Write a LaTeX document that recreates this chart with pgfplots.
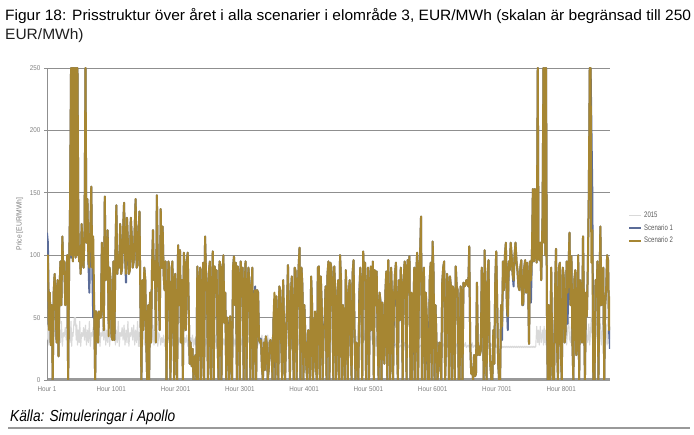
\documentclass[border=0pt]{standalone}
\usepackage{fontspec}
\usepackage{graphicx}
\usepackage{pgfplots}
\usepackage{pgfplotstable}
\pgfplotsset{compat=1.18}
\setmainfont{Liberation Sans}
\newfontfamily\tickfont[FakeStretch=0.9]{Liberation Sans}
\newfontfamily\legfont[FakeStretch=0.75]{Liberation Sans}
\definecolor{scgold}{HTML}{A68632}
\definecolor{scblue}{HTML}{5B6C98}
\definecolor{c15}{HTML}{D9D9D9}
\definecolor{gridgray}{HTML}{8F8F8F}
\definecolor{axgray}{HTML}{999999}
\definecolor{labgray}{HTML}{808080}
\definecolor{leggray}{HTML}{595959}

\pgfplotstableread{
h a b c
0 32 118 85
15 44 110 100
30 28 50 40
45 40 70 70
60 30 28 28
75 47 60 60
90 27 0 0
105 38 70 70
120 35 85 85
135 42 60 60
150 32 30 30
165 44 80 80
180 28 19 19
195 40 70 70
210 30 95 95
225 47 60 60
240 27 115 115
255 38 85 85
270 35 95 95
285 42 60 60
300 32 70 70
315 44 100 100
330 28 0 0
345 40 90 90
360 30 140 140
375 47 250 250
385 27 98 100
395 38 250 250
405 35 95 95
415 42 250 250
425 50 100 100
435 44 250 250
445 50 98 98
455 32 250 250
465 44 100 100
475 28 250 250
490 40 120 120
500 30 95 95
510 47 105 105
525 27 85 85
540 38 125 125
555 35 95 95
570 42 90 90
585 32 120 120
600 44 250 250
615 28 110 110
630 40 145 145
645 30 95 95
660 47 70 90
675 27 120 120
690 38 155 155
705 35 90 90
720 42 50 115
735 32 60 60
750 44 0 0
765 28 55 55
780 40 50 50
795 30 30 30
810 47 55 55
825 27 50 50
840 38 50 50
855 35 110 110
870 42 75 75
885 32 40 40
900 44 147 147
915 28 80 80
930 40 90 90
945 30 120 120
960 47 45 35
975 27 90 90
990 38 80 80
1005 35 35 35
1020 42 32 32
1035 32 95 95
1050 44 32 32
1065 28 100 100
1080 40 140 140
1095 30 85 85
1110 47 100 100
1125 27 90 90
1140 38 125 125
1155 35 85 85
1170 42 90 90
1185 32 120 120
1200 44 142 142
1215 28 100 100
1230 40 78 85
1245 30 130 130
1260 47 110 110
1275 27 85 85
1290 38 88 88
1305 35 130 130
1320 42 115 115
1335 32 90 90
1350 44 95 95
1365 28 120 120
1380 40 145 145
1395 30 90 90
1410 47 92 92
1425 27 120 120
1440 38 135 135
1455 35 60 60
1470 42 0 0
1485 32 80 80
1500 44 40 40
1515 28 90 90
1530 40 80 80
1545 30 30 30
1560 47 0 0
1575 27 60 60
1590 38 0 0
1605 35 70 70
1620 42 30 30
1635 32 90 90
1650 44 120 120
1665 28 80 80
1680 40 95 95
1695 30 30 30
1710 47 148 148
1725 27 90 90
1740 38 70 70
1755 35 40 40
1770 28 137 137
1785 34 90 90
1800 30 123 123
1815 36 85 85
1830 27 72 72
1845 33 95 95
1860 28 0 0
1875 34 60 60
1890 30 95 95
1905 36 90 90
1920 27 0 0
1935 33 40 40
1950 28 95 95
1965 34 70 70
1980 30 0 0
1995 36 85 85
2010 27 40 40
2025 33 0 0
2040 28 108 108
2055 34 60 60
2070 30 104 104
2085 36 30 30
2100 27 80 80
2115 33 0 0
2130 28 102 102
2145 34 85 85
2160 30 40 40
2175 36 95 95
2190 27 102 102
2205 33 60 60
2220 28 13 13
2235 34 30 30
2250 30 11 11
2265 36 25 25
2280 27 0 0
2295 33 15 15
2310 28 20 20
2325 34 0 0
2340 30 91 91
2355 36 0 0
2370 27 78 78
2385 33 90 90
2400 28 0 0
2415 34 60 60
2430 30 94 94
2445 36 0 0
2460 27 115 115
2475 33 85 85
2490 28 72 72
2505 34 0 0
2520 30 87 87
2535 36 95 95
2550 27 0 0
2565 33 60 60
2580 28 103 103
2595 34 0 0
2610 30 91 91
2625 36 70 70
2640 27 88 88
2655 33 30 30
2670 28 0 0
2685 34 95 95
2700 30 92 92
2715 36 0 0
2730 27 78 78
2745 33 100 100
2760 28 46 46
2775 34 70 70
2790 30 0 0
2805 36 50 50
2820 27 43 40
2835 33 0 0
2850 28 51 51
2865 34 20 20
2880 30 0 0
2895 36 90 90
2910 27 99 99
2925 33 60 60
2940 28 94 94
2955 34 0 0
2970 30 91 91
2985 36 80 80
3000 27 0 0
3015 33 95 95
3030 28 67 67
3045 34 90 90
3060 30 0 0
3075 36 70 70
3090 27 95 95
3105 33 0 0
3120 28 72 72
3135 34 90 90
3150 30 78 76
3165 36 0 0
3180 27 67 67
3195 33 90 90
3210 28 0 0
3225 34 60 60
3240 30 75 72
3255 36 0 0
3270 27 72 72
3285 33 70 70
3300 28 32 32
3315 34 30 30
3330 30 33 32
3345 36 10 10
3360 27 0 0
3375 33 30 30
3390 28 8 8
3405 34 35 35
3420 30 29 29
3435 36 0 0
3450 27 8 8
3465 33 30 30
3480 28 32 32
3495 34 20 20
3510 30 0 0
3525 38 50 50
3540 27 48 70
3555 35 0 0
3570 32 67 67
3585 40 40 40
3600 28 0 0
3615 30 75 75
3630 38 72 72
3645 27 30 30
3660 35 0 0
3675 32 80 80
3690 40 40 40
3705 28 0 0
3720 30 35 35
3735 38 60 60
3750 27 92 92
3765 35 40 40
3780 32 0 0
3795 40 70 70
3810 28 83 83
3825 30 30 30
3840 38 0 0
3855 27 90 90
3870 35 87 87
3885 32 0 0
3900 40 67 67
3915 28 90 90
3930 30 106 106
3945 38 0 0
3960 27 90 90
3975 35 75 75
3990 32 0 0
4005 40 60 60
4020 28 36 35
4035 30 10 10
4050 38 0 0
4065 27 40 40
4080 35 32 32
4095 32 0 0
4110 40 83 83
4125 28 60 60
4140 30 0 0
4155 38 30 30
4170 27 50 55
4185 35 10 10
4200 32 0 0
4215 40 90 90
4230 28 91 91
4245 30 0 0
4260 38 83 83
4275 27 60 60
4290 35 0 0
4305 32 40 40
4320 40 48 46
4335 28 75 75
4350 30 0 0
4365 38 85 85
4380 27 95 95
4395 35 0 0
4410 32 94 94
4425 40 90 90
4440 28 72 72
4455 30 0 0
4470 38 91 91
4485 27 70 70
4500 35 0 0
4515 32 60 60
4530 40 80 80
4545 28 0 0
4560 30 100 100
4575 38 80 80
4590 27 0 0
4605 35 60 60
4620 32 29 29
4635 40 0 0
4650 28 88 88
4665 30 60 60
4680 38 0 0
4695 27 70 70
4710 35 80 80
4725 32 30 30
4740 40 0 0
4755 28 85 85
4770 30 96 96
4785 38 40 40
4800 27 0 0
4815 35 30 30
4830 32 20 20
4845 40 0 0
4860 28 70 67
4875 30 90 90
4890 38 70 70
4905 27 0 0
4920 35 103 103
4935 32 80 80
4950 40 94 94
4965 28 0 0
4980 30 67 67
4995 38 90 90
5010 27 0 0
5025 35 70 70
5040 32 91 91
5055 40 40 40
5070 28 95 95
5085 30 0 0
5100 38 88 88
5115 27 60 60
5130 35 87 87
5145 32 30 30
5160 40 0 0
5175 28 70 70
5190 30 63 62
5205 38 0 0
5220 27 62 62
5235 35 30 30
5250 32 13 13
5265 40 70 70
5280 27 87 87
5295 28 0 0
5310 26 96 96
5325 29 60 60
5340 27 0 0
5355 30 90 90
5370 26 62 62
5385 27 0 0
5400 28 62 67
5415 26 85 85
5430 29 94 94
5445 27 30 30
5460 30 0 0
5475 26 80 80
5490 27 48 48
5505 28 90 90
5520 26 62 67
5535 29 0 0
5550 27 80 80
5565 30 95 95
5580 26 88 88
5595 27 0 0
5610 28 96 96
5625 26 75 75
5640 29 99 99
5655 27 0 0
5670 30 55 70
5685 26 0 0
5700 27 50 54
5715 28 90 90
5730 26 0 0
5745 29 85 85
5760 27 102 102
5775 30 0 0
5790 26 88 88
5805 27 100 100
5820 28 131 131
5835 26 0 0
5850 29 72 72
5865 27 90 90
5880 30 0 0
5895 26 70 70
5910 27 43 51
5925 28 0 0
5940 26 11 0
5955 29 80 80
5970 27 94 94
5985 30 0 0
6000 26 111 111
6015 27 85 85
6030 28 0 0
6045 26 60 60
6060 29 32 32
6075 27 0 0
6090 30 8 8
6105 26 30 30
6120 27 24 24
6135 28 0 0
6150 26 78 78
6165 29 90 90
6180 27 95 95
6195 30 0 0
6210 26 29 29
6225 27 85 85
6240 28 72 72
6255 26 0 0
6270 29 83 83
6285 27 75 75
6300 30 0 0
6315 26 75 75
6330 27 70 70
6345 28 0 0
6360 26 91 91
6375 29 75 75
6390 27 72 72
6405 30 0 0
6420 26 0 0
6435 27 75 75
6450 28 70 70
6465 26 0 0
6480 29 78 78
6495 27 75 75
6510 30 76 76
6525 26 80 80
6540 27 78 78
6555 28 75 75
6570 26 107 107
6585 29 30 30
6600 27 5 5
6615 30 10 10
6630 26 0 0
6645 27 20 20
6660 28 3 3
6675 26 5 5
6690 29 78 78
6705 27 20 20
6720 30 27 27
6735 26 20 20
6750 27 24 24
6765 28 90 90
6780 26 72 72
6795 29 0 0
6810 27 104 104
6825 30 30 30
6840 26 0 0
6855 27 85 85
6870 28 96 96
6885 26 30 30
6900 29 11 11
6915 27 0 0
6930 30 0 0
6945 26 40 40
6960 27 13 13
6975 28 80 80
6990 26 103 103
7005 29 60 60
7020 26 13 13
7035 27 0 0
7050 26 0 0
7065 27 60 60
7080 26 32 43
7095 27 95 95
7110 26 72 72
7125 27 100 100
7140 26 110 110
7155 27 60 60
7170 26 40 51
7185 27 95 95
7200 26 88 88
7215 27 110 110
7230 26 99 99
7245 27 85 85
7260 26 75 80
7275 27 100 100
7290 26 110 110
7305 27 95 95
7320 26 88 88
7335 27 75 75
7350 26 72 72
7365 27 90 90
7380 26 96 96
7395 27 60 60
7410 26 60 62
7425 27 90 90
7440 26 96 96
7455 27 70 70
7470 26 94 94
7485 27 80 80
7500 26 29 29
7515 27 95 95
7530 26 62 80
7545 27 100 100
7560 26 153 153
7575 27 95 95
7590 26 153 153
7605 27 100 100
7620 43 94 94
7636 30 250 250
7648 40 100 100
7660 28 96 96
7675 43 110 110
7690 30 80 80
7710 40 130 130
7725 28 250 250
7735 43 110 110
7745 30 250 250
7755 40 100 100
7765 28 250 250
7778 45 60 60
7790 30 0 0
7805 45 60 60
7815 28 0 0
7830 40 0 0
7845 50 90 90
7860 33 27 27
7875 30 0 0
7890 45 0 0
7905 28 70 70
7920 40 105 105
7935 50 30 30
7950 33 0 0
7965 30 90 90
7980 45 94 94
7995 28 20 20
8010 40 0 0
8025 50 90 90
8040 33 83 83
8055 30 30 30
8070 45 40 40
8085 28 95 95
8100 40 45 70
8115 50 90 90
8130 33 118 118
8145 30 60 60
8160 45 99 99
8175 28 30 30
8190 40 0 0
8205 50 80 80
8220 33 88 88
8235 30 20 20
8250 45 32 32
8265 28 100 100
8280 40 0 0
8295 50 80 80
8310 33 67 67
8325 30 30 30
8340 45 115 115
8355 28 60 60
8370 40 0 0
8385 50 70 70
8400 33 51 51
8415 30 90 90
8430 45 147 147
8445 28 250 250
8458 40 250 250
8470 50 205 94
8485 33 150 120
8500 30 0 0
8520 45 0 0
8535 28 80 80
8550 40 67 67
8565 50 95 95
8580 33 0 0
8595 30 70 70
8610 45 123 123
8625 28 60 60
8640 40 67 67
8655 50 90 90
8670 33 0 0
8685 30 60 60
8700 45 72 72
8715 28 100 100
8730 40 96 96
8745 50 40 40
8760 33 25 67
}\data

\newsavebox\titlebox
\newsavebox\srcbox
\newlength\tlen
\newlength\slen

\begin{document}%
\sbox\titlebox{\fontsize{15bp}{17bp}\selectfont Figur 18: Prisstruktur över året i alla scenarier i elområde 3, EUR/MWh (skalan är begränsad till 250}%
\setlength\tlen{\wd\titlebox}%
\pgfmathsetmacro\tfac{686bp/\tlen}%
\sbox\srcbox{\fontsize{16bp}{18bp}\selectfont\itshape Källa: Simuleringar i Apollo}%
\setlength\slen{\wd\srcbox}%
\pgfmathsetmacro\sfac{165bp/\slen}%
\begin{tikzpicture}[x=1bp,y=1bp]
\path[use as bounding box] (0,0) rectangle (694,435);
\node[anchor=base west, inner sep=0pt, text=black!88] at (5,414) {\scalebox{\tfac}[1]{\usebox\titlebox}};
\node[anchor=base west, inner sep=0pt, text=black!88] at (5,395) {\scalebox{\tfac}[1]{\fontsize{15bp}{17bp}\selectfont EUR/MWh)}};
\node[anchor=base west, inner sep=0pt, text=black!88] at (10,13) {\scalebox{\sfac}[1]{\usebox\srcbox}};
\draw[line width=2bp, color=axgray] (8,7) -- (690,7);
\begin{axis}[
  at={(47bp,55bp)}, anchor=south west,
  scale only axis, width=563bp, height=312bp,
  xmin=1, xmax=8760, ymin=0, ymax=250,
  axis lines=left, axis line style={-},
  x axis line style={line width=3bp, color=axgray},
  y axis line style={line width=0.8bp, color=gridgray},
  ytick={0,50,100,150,200,250},
  ymajorgrids, grid style={line width=0.9bp, color=gridgray},
  xtick={1,1001,2001,3001,4001,5001,6001,7001,8001},
  xticklabels={Hour 1,Hour 1001,Hour 2001,Hour 3001,Hour 4001,Hour 5001,Hour 6001,Hour 7001,Hour 8001},
  x tick style={draw=none},
  y tick style={line width=0.8bp, color=gridgray},
  tick align=outside, major tick length=3bp,
  tick label style={font=\fontsize{7bp}{8bp}\tickfont, text=labgray},
  /pgf/number format/assume math mode=true,
  ylabel={Price [EUR/MWh]},
  ylabel style={font=\fontsize{7.5bp}{8bp}\tickfont, text=labgray},
  legend style={at={(1.032,0.487)}, anchor=west, draw=none, fill=none,
    font=\fontsize{8bp}{9bp}\legfont, text=leggray, row sep=1.5bp, inner sep=0pt},
  legend cell align=left,
  legend image code/.code={\draw[#1] (0bp,0bp) -- (12bp,0bp);},
]
\addplot[color=c15, line width=1.1bp, line join=round] table[x=h,y=a]{\data};
\addlegendentry{2015}
\addplot[color=scblue, line width=2bp, line join=round] table[x=h,y=b]{\data};
\addlegendentry{Scenario 1}
\addplot[color=scgold, line width=2bp, line join=round] table[x=h,y=c]{\data};
\addlegendentry{Scenario 2}
\end{axis}
\end{tikzpicture}%
\end{document}
